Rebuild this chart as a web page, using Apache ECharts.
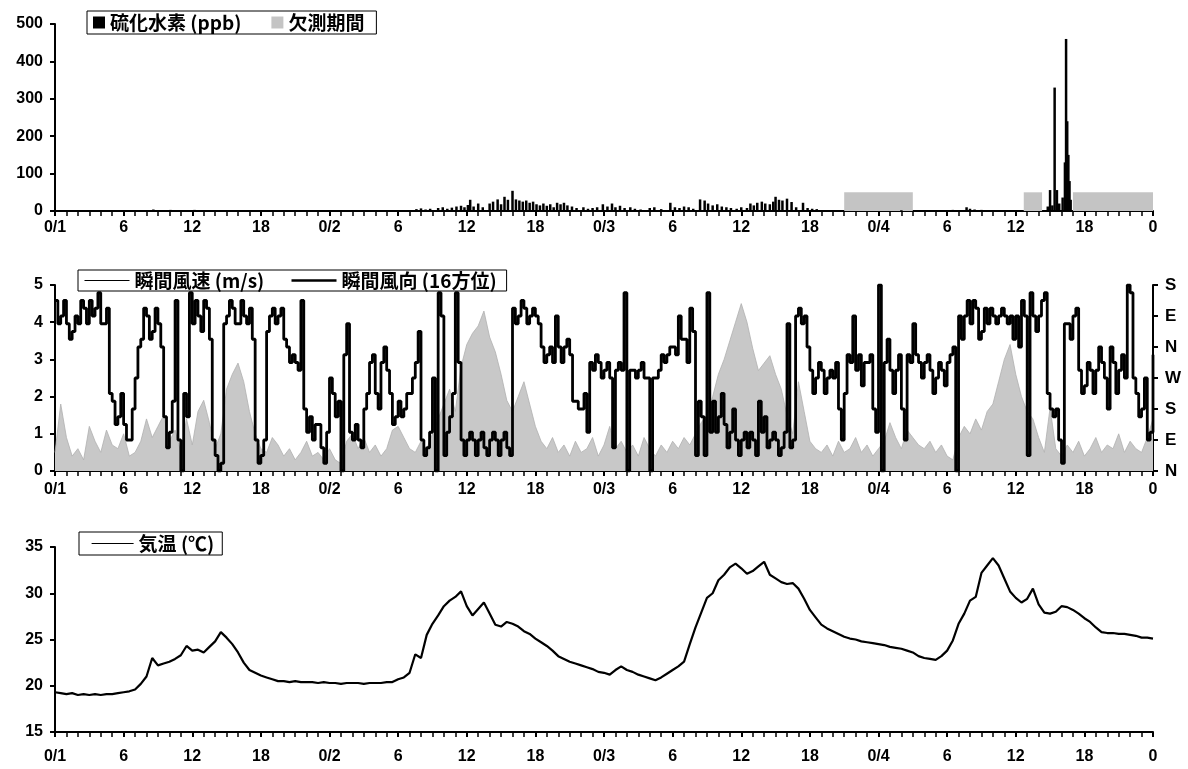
<!DOCTYPE html>
<html><head><meta charset="utf-8">
<script src="https://cdn.jsdelivr.net/npm/echarts@6/dist/echarts.min.js"></script>
<style>html,body{margin:0;padding:0;background:#fff}#c{width:1188px;height:769px}</style>
</head><body><div id="c"></div>
<script>
// ---- data (hours from 0/1 00:00) ----
const xTickLabels = ['0/1','6','12','18','0/2','6','12','18','0/3','6','12','18','0/4','6','12','18','0'];
const dirLabels = ['N','E','S','W','N','E','S'];
const stepHours = 0.5;     // sampling step of windSpeed and temperature
const dirStepHours = 0.25; // sampling step of windDir

// H2S readings [hour, ppb]
const h2s = [[8.6,4],[9.2,2],[10.1,3],[11.3,2],[12.2,3],[13.4,2],[14.1,2],[25.5,1],[27.0,2],
 [31.6,5],[32.0,7],[32.4,4],[32.8,6],[33.5,8],[33.9,10],[34.3,6],[34.7,9],[35.1,12],[35.5,14],[35.8,10],
 [36.1,16],[36.3,30],[36.6,12],[37.0,20],[37.4,10],[38.0,20],[38.3,25],[38.7,31],[39.0,18],[39.3,38],
 [39.6,30],[40.0,54],[40.3,31],[40.6,28],[40.9,25],[41.2,28],[41.5,22],[41.8,25],[42.1,18],[42.4,15],
 [42.7,20],[43.0,14],[43.3,18],[43.6,10],[43.9,22],[44.2,18],[44.5,22],[44.8,15],[45.2,12],[45.6,8],
 [46.2,10],[46.6,6],[47.0,8],[47.4,10],[47.9,18],[48.3,12],[48.7,20],[49.0,10],[49.4,14],[49.8,8],
 [50.3,10],[50.7,6],[51.2,4],[52.0,8],[52.4,10],[53.0,5],[53.8,22],[54.2,10],[54.6,8],[55.0,12],
 [55.4,10],[55.8,6],[56.4,31],[56.8,28],[57.1,20],[57.5,15],[57.9,18],[58.3,12],[58.7,10],[59.1,8],
 [59.6,6],[60.0,10],[60.5,8],[60.8,20],[61.1,15],[61.4,22],[61.8,25],[62.1,20],[62.5,18],[62.8,25],
 [63.0,38],[63.3,30],[63.6,28],[64.0,33],[64.4,24],[64.8,10],[65.4,22],[65.8,8],[66.2,6],[66.6,5],
 [67.2,2],[68.0,2],[74.0,2],[76.0,2],[78.5,3],[79.7,10],[80.0,6],[80.4,4],[81.0,3],[81.8,2],[82.5,2],
 [83.5,2],[86.8,12],[87.0,56],[87.2,15],[87.4,330],[87.6,56],[87.8,20],[88.1,36],[88.3,130],[88.4,460],
 [88.5,240],[88.6,150],[88.7,80],[88.8,30]];

// missing-measurement periods [start hour, end hour] and their drawn level (ppb)
const missingPeriods = [[69,75],[84.7,86.3],[89,96]];
const missingLevel = 50;

// instantaneous wind speed (m/s), every 30 min
const windSpeed = [
 0.5,1.8,0.9,0.4,0.6,0.3,1.2,0.8,0.5,1.1,
 0.7,0.6,1.0,0.4,0.5,0.8,1.4,0.9,1.2,1.5,
 0.8,1.1,0.5,1.4,0.7,1.6,1.9,1.3,0.6,1.0,
 2.2,2.6,2.9,2.4,1.6,1.0,0.6,0.5,0.9,0.7,
 0.4,0.6,0.3,0.5,0.8,0.4,0.5,0.3,0.6,0.3,
 0.2,0.8,1.0,0.6,0.9,0.5,0.7,0.4,0.6,1.1,
 1.2,0.9,0.6,0.5,0.8,0.6,1.0,1.4,1.8,2.2,
 1.6,2.8,3.4,3.7,3.9,4.3,3.6,3.2,2.6,1.9,
 1.6,2.0,2.4,1.8,1.2,0.8,0.6,0.9,0.5,0.7,
 0.4,0.8,0.5,0.6,0.9,0.4,0.7,1.2,0.6,0.8,
 0.5,0.7,0.4,0.9,0.6,0.4,0.7,0.5,0.8,0.6,
 0.9,0.7,1.0,1.3,1.5,2.0,2.6,3.0,3.5,4.0,
 4.5,4.0,3.3,2.7,2.9,3.1,2.6,2.2,1.5,1.0,
 2.4,1.6,0.8,0.6,0.5,0.7,0.4,0.8,0.5,0.6,
 0.9,0.5,0.7,0.4,0.6,0.8,1.3,0.9,0.6,1.1,
 0.9,0.7,0.6,0.8,0.5,0.7,0.4,0.3,0.9,1.2,
 1.0,1.4,1.1,1.6,1.8,2.4,3.0,3.4,2.6,2.0,
 1.6,1.4,0.9,0.5,1.7,0.6,0.4,0.7,0.5,0.8,
 0.4,0.6,0.9,0.5,0.7,0.6,1.0,0.5,0.8,0.6,
 0.5,0.9,1.4];

// instantaneous wind direction on the right scale (N=0,E=4,S=8,W=12,N=16,E=20,S=24), every 15 min
const windDir = [
 22,19,20,22,19,17,18,20,19,22,21,19,22,20,21,23,19,19,21,10,
 9,6,7,10,6,4,4,8,12,16,17,21,20,17,18,21,19,16,7,3,
 5,9,22,4,0,10,7,23,19,22,20,18,22,21,17,4,2,0,1,19,
 20,22,21,19,19,22,20,19,21,17,4,1,2,4,18,20,21,19,20,21,
 17,16,14,15,14,13,22,8,5,7,4,6,6,3,1,5,12,10,7,9,
 0,15,19,5,4,6,4,3,8,10,14,15,10,8,14,16,13,10,6,7,
 9,7,8,10,10,12,14,18,4,2,3,5,12,0,23,20,2,5,7,10,
 23,14,4,2,4,5,4,2,4,5,3,2,4,5,4,2,4,5,3,2,
 21,19,20,22,21,19,20,21,20,19,16,14,15,16,14,20,16,14,16,17,
 15,9,9,8,8,10,5,14,13,15,14,12,13,14,12,3,13,14,13,23,
 0,13,13,12,13,14,12,12,0,12,12,13,15,14,15,16,16,15,20,17,
 17,14,21,18,2,9,7,2,23,5,9,5,7,10,6,3,5,8,4,2,
 4,5,3,5,4,2,9,5,7,3,4,5,4,2,3,5,19,3,4,20,
 21,19,20,16,13,10,12,14,13,10,12,13,12,14,8,4,10,15,14,20,
 13,15,11,14,14,15,8,5,24,0,14,17,13,10,13,15,8,4,15,14,
 19,15,14,12,14,15,13,10,12,14,13,11,14,15,16,0,20,17,20,22,
 19,22,21,17,18,21,19,21,20,19,20,21,20,19,20,17,20,16,22,20,
 2,23,20,18,20,22,23,10,8,7,8,4,1,19,19,17,20,21,13,10,
 11,14,13,10,13,16,14,12,8,16,14,10,13,15,12,24,23,12,10,7,
 8,12,4,5,15];

// air temperature (°C), every 30 min
const temperature = [
 19.3,19.2,19.1,19.2,19.0,19.1,19.0,19.1,19.0,19.1,
 19.1,19.2,19.3,19.4,19.6,20.2,21.0,23.0,22.2,22.4,
 22.6,22.9,23.3,24.3,23.8,23.9,23.6,24.2,24.8,25.8,
 25.2,24.5,23.6,22.5,21.7,21.4,21.1,20.9,20.7,20.5,
 20.5,20.4,20.5,20.4,20.4,20.4,20.3,20.4,20.3,20.3,
 20.2,20.3,20.3,20.3,20.2,20.3,20.3,20.3,20.4,20.4,
 20.7,20.9,21.4,23.4,23.0,25.5,26.7,27.6,28.6,29.2,
 29.6,30.2,28.6,27.6,28.3,29.0,27.8,26.6,26.4,26.9,
 26.7,26.4,25.9,25.6,25.1,24.7,24.3,23.8,23.2,22.9,
 22.6,22.4,22.2,22.0,21.8,21.5,21.4,21.2,21.7,22.1,
 21.7,21.5,21.2,21.0,20.8,20.6,20.9,21.3,21.7,22.1,
 22.6,24.5,26.3,27.9,29.5,30.0,31.4,32.0,32.8,33.2,
 32.7,32.1,32.4,32.9,33.4,32.0,31.6,31.2,31.0,31.1,
 30.5,29.4,28.2,27.4,26.6,26.2,25.9,25.6,25.3,25.1,
 25.0,24.8,24.7,24.6,24.5,24.4,24.2,24.1,24.0,23.8,
 23.6,23.2,23.0,22.9,22.8,23.2,23.8,24.9,26.7,27.8,
 29.2,29.6,32.2,33.0,33.8,33.0,31.6,30.2,29.5,29.0,
 29.4,30.5,28.8,27.9,27.8,28.0,28.6,28.5,28.2,27.8,
 27.3,26.9,26.3,25.8,25.7,25.7,25.6,25.6,25.5,25.4,
 25.2,25.2,25.1];

// ---- chart ----
const pair = (arr, step) => arr.map((v, i) => [i * step, v]);
const chart = echarts.init(document.getElementById('c'), null, {renderer: 'canvas'});
const lblFont = {fontFamily: 'Liberation Sans', fontWeight: 'bold', fontSize: 16, color: '#000'};
const legFont = {fontFamily: 'Noto Sans CJK JP', fontWeight: 'bold', fontSize: 19, color: '#000'};
const axLine = {show: true, lineStyle: {color: '#000', width: 2}};
function xAx(grid, margin) {
  return {
    type: 'value', gridIndex: grid, min: 0, max: 96, interval: 6,
    axisLine: axLine,
    axisTick: {show: true, inside: false, length: 5, lineStyle: {color: '#000', width: 2}},
    minorTick: {show: true, splitNumber: 6, length: 5, lineStyle: {color: '#000', width: 1.5}},
    splitLine: {show: false}, minorSplitLine: {show: false},
    axisLabel: Object.assign({margin: margin, showMinLabel: true, showMaxLabel: true,
      formatter: v => xTickLabels[Math.round(v / 6)]}, lblFont)
  };
}
function yAx(grid, min, max, interval, extra) {
  return Object.assign({
    type: 'value', gridIndex: grid, min: min, max: max, interval: interval,
    axisLine: axLine,
    axisTick: {show: true, inside: false, length: 5, lineStyle: {color: '#000', width: 2}},
    splitLine: {show: false},
    axisLabel: Object.assign({margin: 12}, lblFont)
  }, extra || {});
}
const hideSym = {opacity: 0};

chart.setOption({
  animation: false,
  backgroundColor: '#fff',
  grid: [
    {left: 55, right: 35, top: 24, height: 187},
    {left: 55, right: 35, top: 285, height: 186},
    {left: 55, right: 35, top: 547, height: 185}
  ],
  xAxis: [xAx(0, 9), xAx(1, 11), xAx(2, 17)],
  yAxis: [
    yAx(0, 0, 500, 100),
    yAx(1, 0, 5, 1),
    yAx(1, 0, 24, 4, {position: 'right',
      axisLabel: Object.assign({margin: 12, formatter: v => dirLabels[Math.round(v / 4)]}, lblFont, {fontSize: 17})}),
    yAx(2, 15, 35, 5)
  ],
  legend: [
    {left: 87, top: 11, orient: 'horizontal', itemWidth: 12, itemHeight: 12, itemGap: 30,
     padding: [2, 12, 2, 6], borderColor: '#000', borderWidth: 1, textStyle: legFont,
     data: [{name: '硫化水素 (ppb)', icon: 'rect'}, {name: '欠測期間', icon: 'rect'}]},
    {left: 78, top: 270, orient: 'horizontal', itemWidth: 45, itemHeight: 14, itemGap: 26,
     padding: [1, 10, 1, 6], borderColor: '#000', borderWidth: 1, textStyle: legFont,
     data: [{name: '瞬間風速 (m/s)', itemStyle: hideSym, lineStyle: {color: '#000', width: 1, opacity: 1}},
            {name: '瞬間風向 (16方位)', itemStyle: hideSym, lineStyle: {color: '#000', width: 2.5, opacity: 1}}]},
    {left: 79, top: 532, orient: 'horizontal', itemWidth: 42, itemHeight: 14,
     padding: [2, 8, 2, 12], borderColor: '#000', borderWidth: 1, textStyle: legFont,
     data: [{name: '気温 (℃)', itemStyle: hideSym, lineStyle: {color: '#000', width: 1.2, opacity: 1}}]}
  ],
  series: [
    {name: '欠測期間', type: 'bar', xAxisIndex: 0, yAxisIndex: 0, data: [[0, 0]], barWidth: 1,
     itemStyle: {color: '#c4c4c4'}, z: 1,
     markArea: {silent: true, itemStyle: {color: '#c4c4c4'},
       data: missingPeriods.map(p => [{coord: [p[0], 0]}, {coord: [p[1], missingLevel]}])}},
    {name: '硫化水素 (ppb)', type: 'bar', xAxisIndex: 0, yAxisIndex: 0, data: h2s, barWidth: 2.5,
     barGap: '-100%', itemStyle: {color: '#000'}, z: 3},
    {name: '瞬間風速 (m/s)', type: 'line', xAxisIndex: 1, yAxisIndex: 1, data: pair(windSpeed, stepHours),
     symbol: 'none', itemStyle: {color: '#000'}, lineStyle: {color: '#b0b0b0', width: 0.8},
     areaStyle: {color: '#c8c8c8', opacity: 1}, z: 1},
    {name: '瞬間風向 (16方位)', type: 'line', step: 'end', xAxisIndex: 1, yAxisIndex: 2,
     data: pair(windDir, dirStepHours), symbol: 'none', itemStyle: {color: '#000'},
     lineStyle: {color: '#000', width: 2.8}, z: 3},
    {name: '気温 (℃)', type: 'line', xAxisIndex: 2, yAxisIndex: 3, data: pair(temperature, stepHours),
     symbol: 'none', itemStyle: {color: '#000'}, lineStyle: {color: '#000', width: 2.2}, z: 3}
  ]
});
</script>
</body></html>
